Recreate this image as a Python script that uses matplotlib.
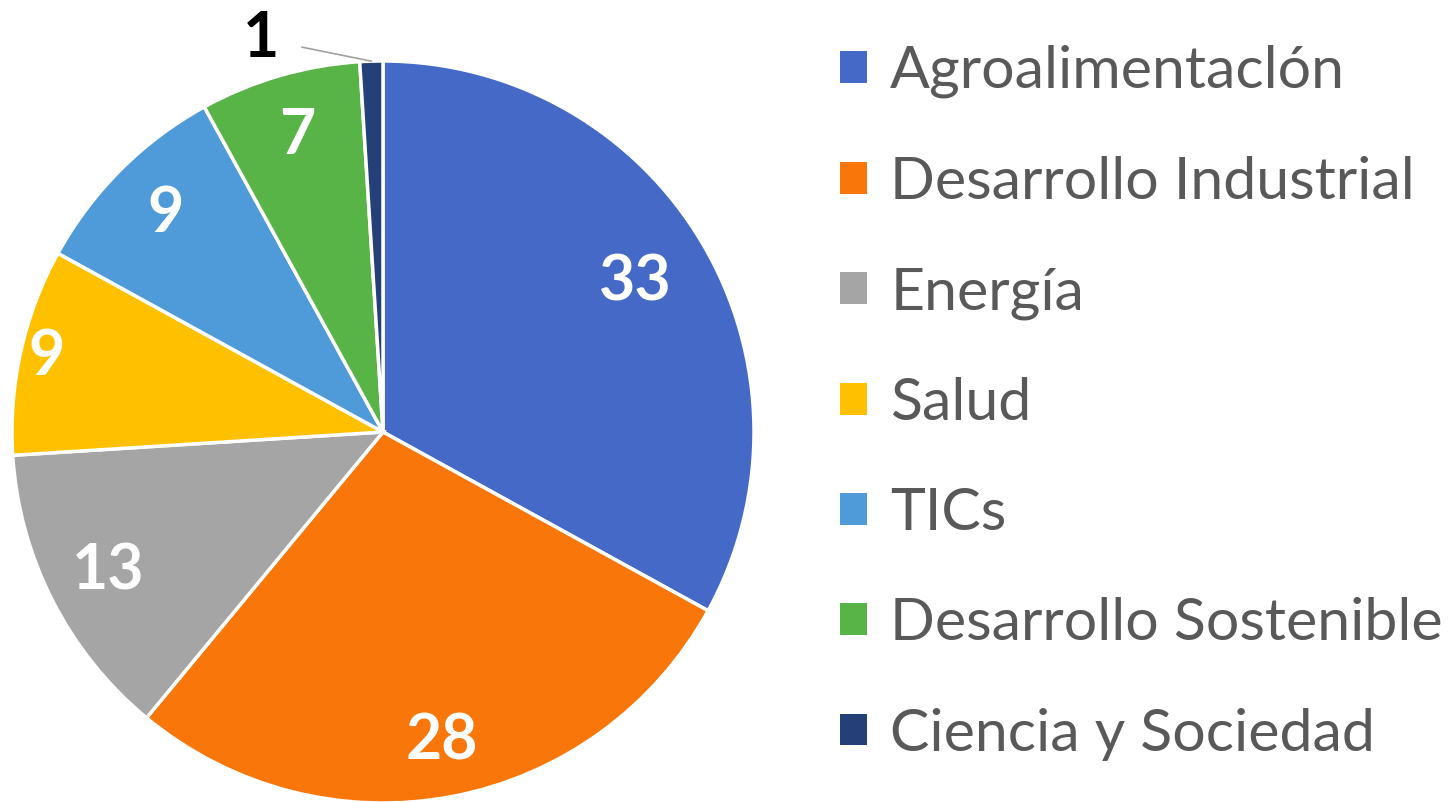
import numpy as np
import matplotlib.pyplot as plt
from matplotlib.patches import Patch

categories = ['Agroalimentaclón', 'Desarrollo Industrial', 'Energía', 'Salud',
              'TICs', 'Desarrollo Sostenible', 'Ciencia y Sociedad']
values = [33, 28, 13, 9, 9, 7, 1]
colors = ['#4469C7', '#F9760A', '#A5A5A5', '#FFC000', '#4F9BDA', '#58B447', '#253F78']

plt.rcParams['font.family'] = ['Lato', 'DejaVu Sans']

W, H = 1455, 802
fig = plt.figure(figsize=(W / 100, H / 100), dpi=100)

# pie centre and radius in pixels
cx, cy, R = 383, 432, 371
ax = fig.add_axes([(cx - R) / W, (H - cy - R) / H, 2 * R / W, 2 * R / H])
wedges, _ = ax.pie(values, colors=colors, startangle=90, counterclock=False,
                   radius=1, wedgeprops=dict(edgecolor='white', linewidth=2.5))
ax.set_xlim(-1, 1)
ax.set_ylim(-1, 1)
ax.set_aspect('equal')
ax.axis('off')

# value labels inside the wedges (excel "best fit" style)
dist = {0: 0.79, 1: 0.85, 3: 0.93}
for i, (w, v) in enumerate(zip(wedges, values)):
    ang = np.deg2rad((w.theta1 + w.theta2) / 2)
    if v < 3:
        x, y = np.cos(ang), np.sin(ang)
        ax.annotate(str(v), xy=(x, y), xytext=(-0.33, 1.06),
                    ha='center', va='center', fontsize=45, fontweight='bold',
                    color='black', annotation_clip=False,
                    arrowprops=dict(arrowstyle='-', color='#A0A0A0', lw=1.2,
                                    shrinkA=15, shrinkB=0))
        continue
    r = dist.get(i, 0.83)
    ax.text(r * np.cos(ang), r * np.sin(ang), str(v), ha='center', va='center',
            fontsize=45, fontweight='bold', color='white')

handles = [Patch(facecolor=c, edgecolor='none') for c in colors]
fig.legend(handles, categories, loc='upper left', bbox_to_anchor=(840 / W, 1 - 45 / H),
           frameon=False, fontsize=42.5, labelcolor='#595959', handlelength=0.45,
           handleheight=0.45, handletextpad=0.4, labelspacing=0.97,
           borderpad=0, borderaxespad=0)

fig.savefig('out.png', dpi=100)
